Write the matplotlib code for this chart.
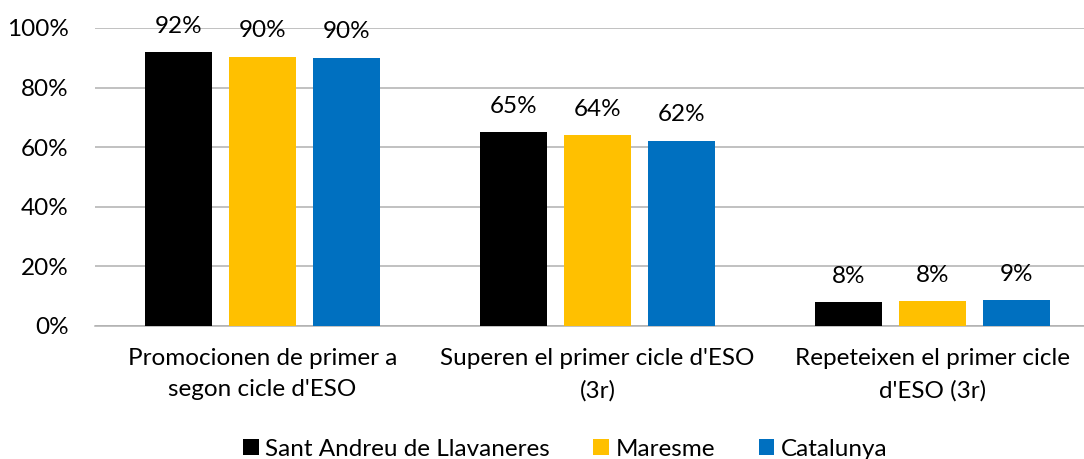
import numpy as np
import matplotlib.pyplot as plt
from matplotlib.patches import Patch

plt.rcParams["font.family"] = ["Lato", "DejaVu Sans"]

CATEGORIES = [
    "Promocionen de primer a\nsegon cicle d'ESO",
    "Superen el primer cicle d'ESO\n(3r)",
    "Repeteixen el primer cicle\nd'ESO (3r)",
]
SERIES = ["Sant Andreu de Llavaneres", "Maresme", "Catalunya"]
VALUES = {
    "Sant Andreu de Llavaneres": [0.920, 0.650, 0.080],
    "Maresme": [0.904, 0.640, 0.084],
    "Catalunya": [0.901, 0.622, 0.086],
}
COLORS = {
    "Sant Andreu de Llavaneres": "#000000",
    "Maresme": "#ffc000",
    "Catalunya": "#0070c0",
}
FS = 17.5

W, H = 1084, 459
fig = plt.figure(figsize=(W / 100, H / 100), dpi=100)
ax = fig.add_axes([95 / W, (H - 326) / H, 1005 / W, 298 / H])

x = np.arange(len(CATEGORIES))
step = 0.25
bar_w = 0.2
for i, s in enumerate(SERIES):
    offs = (i - 1) * step
    bars = ax.bar(x + offs, VALUES[s], width=bar_w, color=COLORS[s], zorder=3)
    for b, v in zip(bars, VALUES[s]):
        ax.annotate(f"{round(v * 100):.0f}%", (b.get_x() + b.get_width() / 2, v),
                    xytext=(0, 11), textcoords="offset points",
                    ha="center", va="bottom", fontsize=FS, color="#000000")

ax.set_xlim(-0.5, 2.5)
ax.set_ylim(0, 1.0)
ticks = np.arange(0, 1.01, 0.2)
ax.set_yticks(ticks)
ax.set_yticklabels([f"{int(round(t * 100))}%" for t in ticks], fontsize=FS)
ax.set_xticks(x)
ax.set_xticklabels(CATEGORIES, fontsize=FS, linespacing=1.6)
ax.tick_params(axis="both", length=0, colors="#000000")
ax.tick_params(axis="y", pad=19)
ax.tick_params(axis="x", pad=16)
ax.yaxis.grid(True, color="#b0b0b0", linewidth=1.1, zorder=0)
for side in ["top", "right", "left"]:
    ax.spines[side].set_visible(False)
ax.spines["bottom"].set_color("#b0b0b0")
ax.spines["bottom"].set_linewidth(1.1)

handles = [Patch(facecolor=COLORS[s], label=s) for s in SERIES]
fig.legend(handles=handles, loc="center", bbox_to_anchor=(565 / W, (H - 449) / H),
           ncol=3, frameon=False, fontsize=FS, handlelength=0.65, handleheight=0.65,
           handletextpad=0.25, columnspacing=1.8, borderpad=0)

fig.savefig("out.png", dpi=100, facecolor="white")
